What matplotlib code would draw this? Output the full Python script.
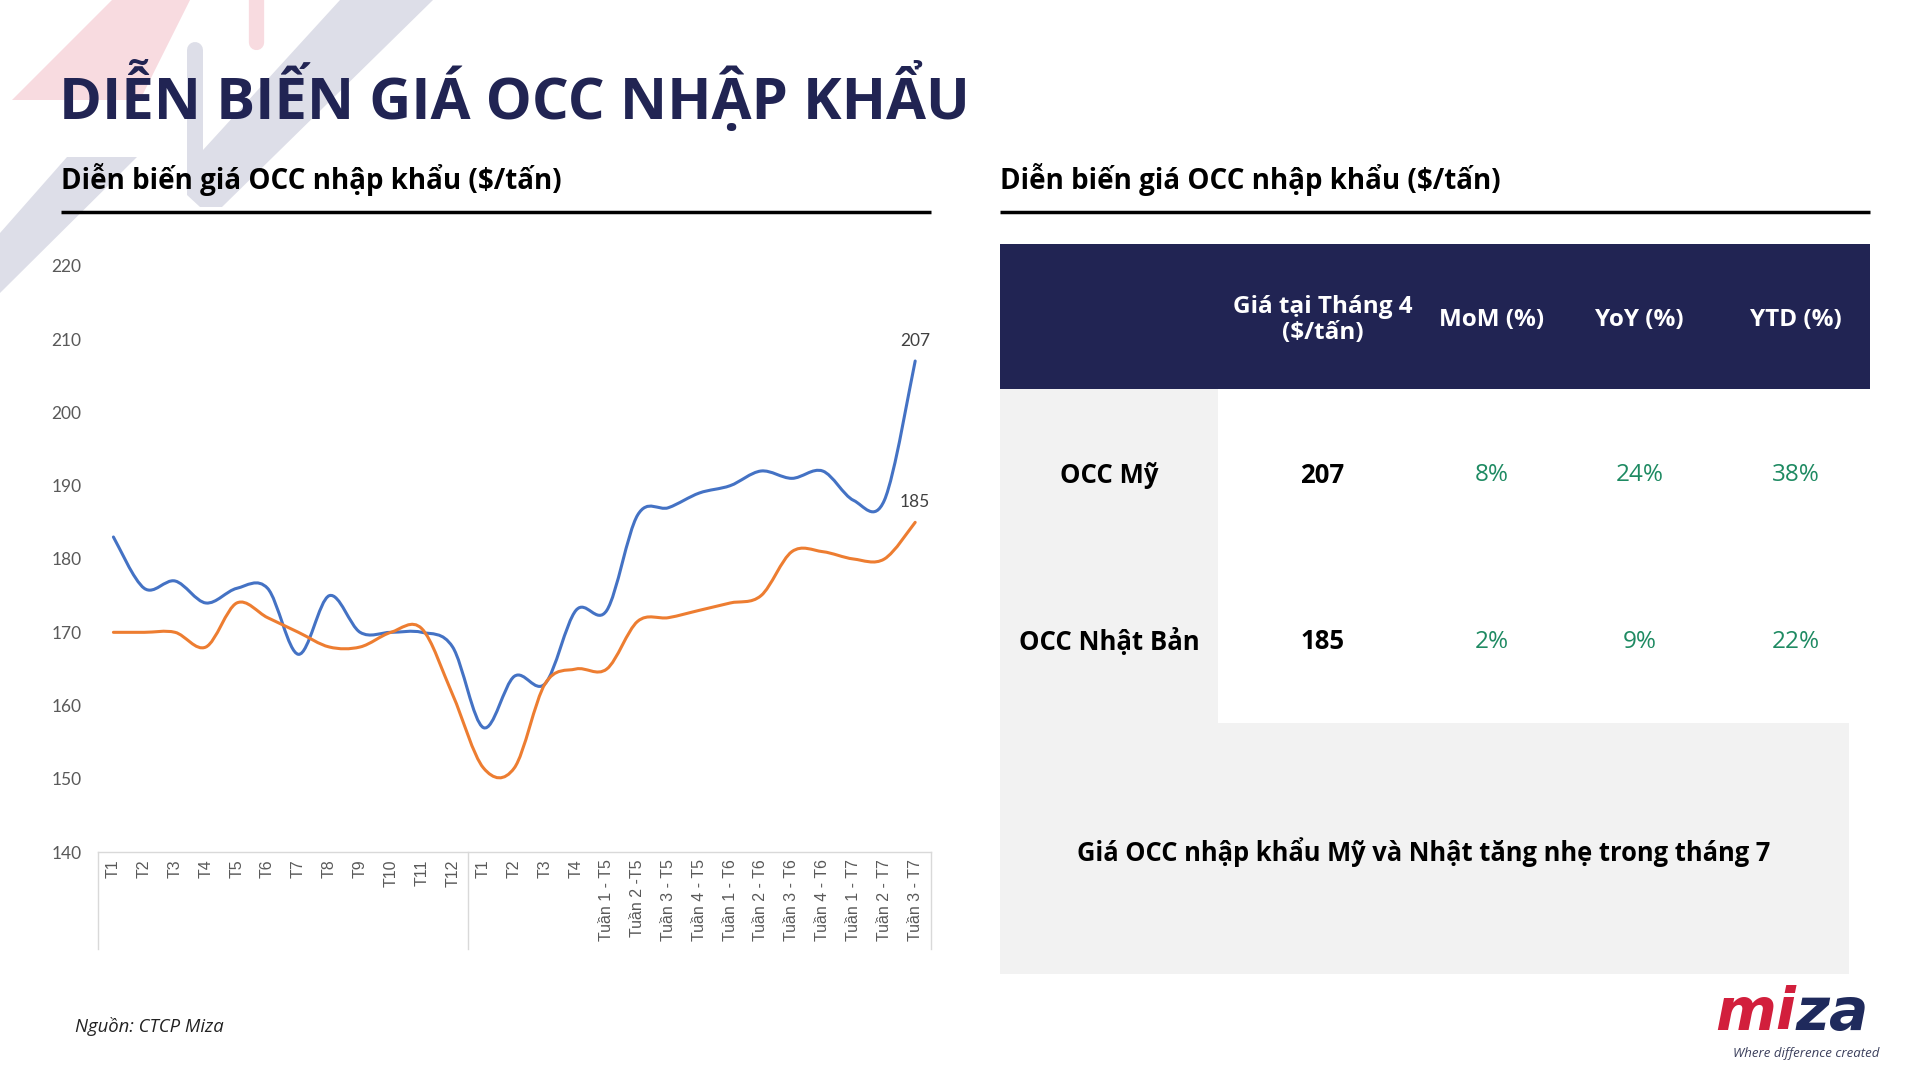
import numpy as np
import matplotlib.pyplot as plt
from matplotlib.path import Path
from matplotlib.patches import PathPatch, Polygon, Rectangle

# ---- data ----
categories = ['T1', 'T2', 'T3', 'T4', 'T5', 'T6', 'T7', 'T8', 'T9', 'T10', 'T11', 'T12',
              'T1', 'T2', 'T3', 'T4',
              'Tuần 1 - T5', 'Tuần 2 -T5', 'Tuần 3 - T5', 'Tuần 4 - T5',
              'Tuần 1 - T6', 'Tuần 2 - T6', 'Tuần 3 - T6', 'Tuần 4 - T6',
              'Tuần 1 - T7', 'Tuần 2 - T7', 'Tuần 3 - T7']
occ_my = [183, 176, 177, 174, 176, 176, 167, 175, 170, 170, 170, 168,
          157, 164, 163, 173,
          173, 186, 187, 189,
          190, 192, 191, 192,
          188, 188, 207]
occ_nhat = [170, 170, 170, 168, 174, 172, 170, 168, 168, 170, 170.5, 161.5,
            151.5, 151.5, 163, 165,
            165, 171.5, 172, 173,
            174, 175, 181, 181,
            180, 180, 185]

table_cols = ['Giá tại Tháng 4\n($/tấn)', 'MoM (%)', 'YoY (%)', 'YTD (%)']
table_rows = ['OCC Mỹ', 'OCC Nhật Bản']
table_price = [207, 185]
table_mom = ['8%', '2%']
table_yoy = ['24%', '9%']
table_ytd = ['38%', '22%']

title = 'DIỄN BIẾN GIÁ OCC NHẬP KHẨU'
subtitle = 'Diễn biến giá OCC nhập khẩu ($/tấn)'
note = 'Giá OCC nhập khẩu Mỹ và Nhật tăng nhẹ trong tháng 7'
source = 'Nguồn: CTCP Miza'

NAVY = '#212453'
BLUE = '#4472C4'
ORANGE = '#ED7D31'
GREEN = '#1E8A62'
GREY_TXT = '#595959'
HEAD_FONT = 'Open Sans'


def smooth_path(xs, ys):
    # bezier through every point, like Excel's "smoothed line"
    pts = np.column_stack([xs, ys]).astype(float)
    n = len(pts)
    verts = [pts[0]]
    codes = [Path.MOVETO]
    for i in range(n - 1):
        p0 = pts[max(i - 1, 0)]
        p1 = pts[i]
        p2 = pts[i + 1]
        p3 = pts[min(i + 2, n - 1)]
        verts += [p1 + (p2 - p0) / 6, p2 - (p3 - p1) / 6, p2]
        codes += [Path.CURVE4] * 3
    return Path(verts, codes)


fig = plt.figure(figsize=(19.2, 10.8), dpi=100)

# background layer in pixel coordinates (y down)
bg = fig.add_axes([0, 0, 1, 1])
bg.set_xlim(0, 1920)
bg.set_ylim(1080, 0)
bg.axis('off')

PINK = '#f8dbe0'
LGREY = '#dddee8'
bg.add_patch(Polygon([(12, 100), (112, 0), (190, 0), (140, 100)], closed=True, color=PINK, lw=0))
bg.plot([255.5, 255.5], [-20, 42], color=PINK, lw=11, solid_capstyle='round')
bg.add_patch(Polygon([(187, 50), (203, 50), (203, 150), (340, 0), (433, 0), (222, 207), (200, 207), (187, 195)],
                     closed=True, color=LGREY, lw=0))
bg.plot([195, 195], [50, 120], color=LGREY, lw=11.5, solid_capstyle='round')
bg.add_patch(Polygon([(67, 157), (137, 157), (0, 293), (0, 233)], closed=True, color=LGREY, lw=0))

bg.text(58.8, 118.8, title, ha='left', va='baseline', fontsize=41.8, fontweight='bold',
        family=HEAD_FONT, color=NAVY)

for x0, x1 in [(61.2, 930.6), (1000.4, 1869.8)]:
    bg.text(x0, 188.6, subtitle, ha='left', va='baseline', fontsize=20, fontweight='bold',
            family=HEAD_FONT, color='black')
    bg.plot([x0, x1], [211.8, 211.8], color='black', lw=2.5, solid_capstyle='butt')

# table on the right
bg.add_patch(Rectangle((1000.4, 243.7), 869.4, 145.7, color=NAVY, lw=0))
bg.add_patch(Rectangle((1000.4, 389.4), 218, 333.1, color='#f2f2f2', lw=0))
bg.add_patch(Rectangle((1000.4, 722.5), 848.6, 251, color='#f2f2f2', lw=0))

col_x = [1322.5, 1491.4, 1639.6, 1796.3]
row_y = [475.2, 641.7]
for cx, lab in zip(col_x, table_cols):
    bg.text(cx, 320, lab, ha='center', va='center', fontsize=17.5, fontweight='bold',
            family=HEAD_FONT, color='white', linespacing=1.1)
for i, ry in enumerate(row_y):
    bg.text(1109.4, ry, table_rows[i], ha='center', va='center', fontsize=18.5,
            fontweight='bold', family=HEAD_FONT, color='black')
    bg.text(col_x[0], ry, str(table_price[i]), ha='center', va='center', fontsize=18.5,
            fontweight='bold', family=HEAD_FONT, color='black')
    for cx, vals in zip(col_x[1:], [table_mom, table_yoy, table_ytd]):
        bg.text(cx, ry, vals[i], ha='center', va='center', fontsize=17.5,
                family=HEAD_FONT, color=GREEN)

bg.text(1424, 852.3, note, ha='center', va='center', fontsize=18.4, fontweight='bold',
        family=HEAD_FONT, color='black')

bg.text(74.7, 1026, source, ha='left', va='center', fontsize=13.3, style='italic',
        family=HEAD_FONT, color='#222222')

# logo
bg.text(1796, 1030, 'mi', ha='right', va='baseline', fontsize=42, fontweight='bold',
        style='italic', family='DejaVu Sans', color='#D21F3C')
bg.text(1796, 1030, 'za', ha='left', va='baseline', fontsize=42, fontweight='bold',
        style='italic', family='DejaVu Sans', color='#1F2A5C')
bg.text(1806, 1053, 'Where difference created', ha='center', va='center', fontsize=9.5,
        style='italic', family=HEAD_FONT, color='#3b3f5c')

# ---- line chart ----
ax = fig.add_axes([98 / 1920, 1 - 852.3 / 1080, 832.6 / 1920, 586.6 / 1080])
ax.set_facecolor('none')
x = np.arange(len(categories))
ax.set_xlim(-0.5, len(categories) - 0.5)
ax.set_ylim(140, 220)
ax.set_yticks(range(140, 221, 10))
ax.set_xticks(x)
ax.set_xticklabels(categories, rotation=90, family='Liberation Sans', fontsize=11.5, color=GREY_TXT)
ax.tick_params(axis='both', length=0)
ax.tick_params(axis='y', pad=12, labelsize=12.5, labelcolor=GREY_TXT)
ax.tick_params(axis='x', pad=5)
for lab in ax.get_yticklabels():
    lab.set_family('Lato')
for s in ['top', 'right', 'left']:
    ax.spines[s].set_visible(False)
ax.spines['bottom'].set_color('#d9d9d9')
ax.spines['bottom'].set_linewidth(1)

trans = ax.get_xaxis_transform()
for xv in [-0.5, 11.5, len(categories) - 0.5]:
    ax.plot([xv, xv], [0, -0.165], transform=trans, color='#d9d9d9', lw=1, clip_on=False)

ax.add_patch(PathPatch(smooth_path(x, occ_my), fill=False, edgecolor=BLUE, lw=2.2,
                       capstyle='round', joinstyle='round'))
ax.add_patch(PathPatch(smooth_path(x, occ_nhat), fill=False, edgecolor=ORANGE, lw=2.2,
                       capstyle='round', joinstyle='round'))

for series in [occ_my, occ_nhat]:
    ax.annotate(f'{series[-1]}', (x[-1], series[-1]), xytext=(0, 9), textcoords='offset points',
                ha='center', va='bottom', fontsize=12.5, family='Lato', color='#404040')

fig.savefig('out.png', dpi=100)
